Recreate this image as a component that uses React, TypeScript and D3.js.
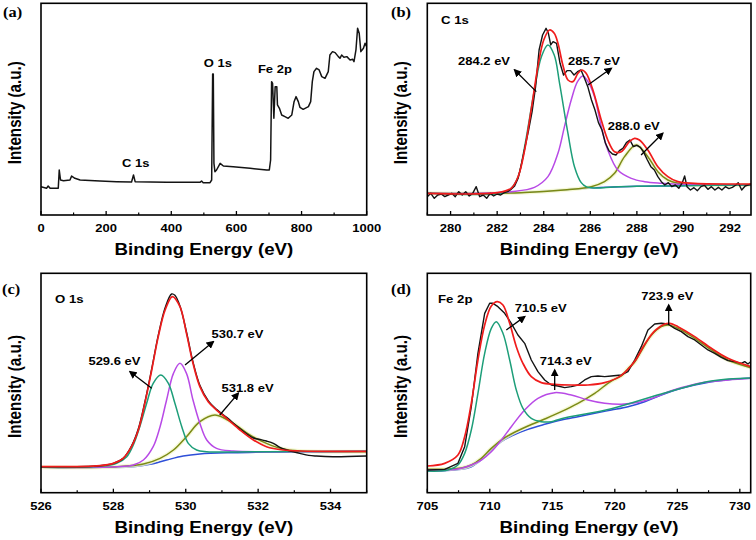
import React from 'react';
import * as d3 from 'd3';

type Pt = [number, number];

const SX = 1.17;
const SANS = '"Liberation Sans", Arial, Helvetica, sans-serif';
const SERIF = '"Liberation Serif", "Times New Roman", Times, serif';

const C_RAW = '#141414';
const C_ENV = '#f01c1c';
const C_P1 = '#1d9e79';
const C_P2 = '#b84ae6';
const C_P3 = '#7b8a16';
const C_BG = '#2e4fd8';
const C_GLOW = '#f2f6cc';

// ---------- (a) survey ----------
const surveyRaw: Pt[] = [
  [0, 85], [17, 80], [22, 87], [28, 80], [53, 80], [56, 135], [60, 105], [69, 103], [89, 105], [94, 117],
  [104, 110], [120, 105], [181, 102], [232, 100], [278, 99], [284, 120], [289, 100], [335, 99], [386, 98],
  [488, 98], [493, 102], [498, 97], [519, 97], [524, 105], [527, 423], [529, 423], [531, 155], [534, 130],
  [539, 135], [550, 155], [560, 147], [590, 145], [642, 140], [693, 135], [701, 135], [705, 165], [708, 400],
  [711, 395], [715, 290], [719, 385], [724, 385], [726, 330], [732, 320], [739, 300], [749, 295], [759, 290],
  [770, 300], [777, 340], [783, 355], [790, 340], [795, 323], [805, 317], [821, 325], [828, 340], [833, 400],
  [838, 430], [846, 440], [854, 435], [862, 415], [872, 410], [882, 430], [887, 480], [895, 490], [903, 487],
  [913, 475], [918, 470], [923, 480], [930, 473], [939, 475], [949, 465], [957, 467], [961, 460], [967, 495],
  [972, 560], [977, 545], [982, 490], [990, 500], [995, 515], [1000, 505],
];
const surveyMajor = [0, 200, 400, 600, 800, 1000];
const surveyMinor = [100, 300, 500, 700, 900];

// ---------- (b) C 1s ----------
const c1sRaw: Pt[] = [
  [279.0, 55], [279.15, 65], [279.3, 50], [279.45, 60], [279.6, 63], [279.75, 55], [279.9, 60], [280.05, 65],
  [280.2, 55], [280.35, 70], [280.5, 60], [280.65, 70], [280.8, 57], [280.95, 65], [281.1, 85], [281.25, 55],
  [281.4, 60], [281.55, 50], [281.7, 65], [281.85, 57], [282.0, 63], [282.15, 60], [282.3, 67], [282.45, 70],
  [282.6, 77], [282.75, 87], [282.9, 110], [283.05, 155], [283.2, 205], [283.35, 255], [283.5, 310],
  [283.65, 385], [283.8, 495], [283.95, 540], [284.1, 560], [284.2, 545], [284.3, 510], [284.4, 520],
  [284.55, 515], [284.7, 455], [284.85, 420], [285.0, 433], [285.15, 433], [285.3, 420], [285.45, 430],
  [285.6, 435], [285.75, 410], [285.9, 383], [286.05, 345], [286.2, 315], [286.35, 277], [286.5, 255],
  [286.65, 215], [286.8, 193], [286.95, 183], [287.1, 180], [287.25, 193], [287.4, 200], [287.55, 217],
  [287.7, 225], [287.85, 205], [288.0, 209], [288.15, 203], [288.3, 187], [288.45, 165], [288.6, 145],
  [288.75, 135], [288.9, 115], [289.05, 100], [289.2, 90], [289.35, 97], [289.5, 85], [289.65, 90],
  [289.8, 80], [289.95, 97], [290.05, 117], [290.15, 85], [290.3, 75], [290.45, 82], [290.6, 73],
  [290.75, 85], [290.9, 89], [291.05, 77], [291.2, 85], [291.35, 75], [291.5, 83], [291.65, 75], [291.8, 85],
  [291.95, 79], [292.1, 83], [292.25, 90], [292.35, 97], [292.5, 75], [292.65, 87], [292.9, 93],
];
const c1sEnvelope: Pt[] = [
  [279, 65], [282.03, 67], [282.6, 80], [282.9, 115], [283.18, 195], [283.46, 315], [283.75, 445], [284.0, 525],
  [284.25, 555], [284.45, 545], [284.61, 515], [284.82, 450], [285.04, 405], [285.25, 400], [285.47, 425],
  [285.64, 435], [285.82, 425], [286.11, 375], [286.47, 285], [286.75, 225], [287.04, 190], [287.33, 190],
  [287.68, 220], [287.9, 230], [288.11, 225], [288.47, 195], [288.9, 145], [289.33, 115], [289.76, 100],
  [290.47, 95], [292.9, 93],
];
const c1sPeakA: Pt[] = [
  [279, 65], [282.3, 67], [282.6, 80], [282.9, 115], [283.18, 205], [283.6, 375], [283.9, 475], [284.18, 510],
  [284.45, 480], [284.68, 395], [285.04, 245], [285.32, 145], [285.61, 97], [285.82, 85], [286.2, 81],
  [287, 84], [288, 86], [290, 88], [292.9, 90],
];
const c1sPeakB: Pt[] = [
  [279, 65], [281.17, 65], [282.6, 70], [283.6, 83], [284.18, 115], [284.61, 185], [284.89, 265], [285.18, 345],
  [285.45, 400], [285.68, 417], [285.9, 400], [286.18, 355], [286.47, 265], [286.75, 195], [287.18, 135],
  [287.76, 110], [288.33, 100], [289.04, 95], [289.76, 92], [291.19, 90], [292.9, 90],
];
const c1sPeakC: Pt[] = [
  [279, 65], [283, 67], [285, 76], [286.04, 85], [286.61, 100], [287.04, 125], [287.47, 175], [287.97, 210],
  [288.47, 175], [288.9, 130], [289.33, 105], [289.76, 95], [290.47, 90], [292.9, 90],
];
const c1sBackground: Pt[] = [
  [279, 65], [282, 65], [283, 67], [284, 71], [285, 76], [286, 81], [287, 84], [288, 86], [289, 87], [290, 88],
  [292.9, 90],
];
const c1sMajor = [280, 282, 284, 286, 288, 290, 292];
const c1sMinor = [279, 281, 283, 285, 287, 289, 291];

// ---------- (c) O 1s ----------
const o1sRaw: Pt[] = [
  [526, 78], [527.63, 81], [528.0, 88], [528.27, 103], [528.5, 140], [528.69, 192], [528.87, 272], [529.06, 372],
  [529.24, 472], [529.43, 555], [529.61, 596], [529.7, 592], [529.84, 560], [530.02, 482], [530.2, 392],
  [530.39, 322], [530.62, 276], [530.85, 250], [531.13, 226], [531.5, 192], [531.87, 164], [532.05, 160],
  [532.23, 155], [532.42, 148], [532.6, 136], [532.79, 128], [533.0, 122], [533.15, 118], [533.4, 112],
  [533.61, 110], [534.07, 108], [535, 110],
];
const o1sEnvelope: Pt[] = [
  [526, 78], [527.63, 81], [528.0, 88], [528.27, 103], [528.5, 138], [528.69, 188], [528.87, 268], [529.06, 368],
  [529.24, 468], [529.43, 548], [529.63, 588], [529.84, 558], [530.02, 478], [530.2, 388], [530.39, 318],
  [530.62, 273], [530.85, 248], [531.13, 223], [531.5, 188], [531.87, 158], [532.23, 138], [532.69, 128],
  [533.15, 125], [535, 124],
];
const o1sPeakA: Pt[] = [
  [526, 76], [527.63, 79], [528.09, 88], [528.37, 108], [528.55, 143], [528.73, 198], [528.92, 268], [529.1, 328],
  [529.31, 353], [529.52, 328], [529.7, 268], [529.89, 198], [530.07, 148], [530.3, 128], [530.58, 123],
  [531.31, 122], [532.23, 123], [535, 124],
];
const o1sPeakB: Pt[] = [
  [526, 76], [528.09, 78], [528.55, 83], [528.83, 98], [529.1, 138], [529.29, 198], [529.47, 278], [529.66, 358],
  [529.84, 388], [530.02, 358], [530.2, 278], [530.39, 208], [530.58, 158], [530.85, 133], [531.31, 125],
  [532.23, 123], [535, 124],
];
const o1sPeakC: Pt[] = [
  [526, 76], [528.09, 78], [528.83, 86], [529.29, 103], [529.66, 128], [530.02, 168], [530.39, 213], [530.81, 233],
  [531.31, 208], [531.77, 173], [532.23, 148], [532.69, 131], [533.15, 125], [535, 123],
];
const o1sBackground: Pt[] = [
  [526, 76], [528.55, 78], [529.01, 85], [529.47, 98], [529.93, 110], [530.39, 116], [531.31, 120], [532.23, 122],
  [533.15, 123], [535, 124],
];
const o1sMajor = [526, 528, 530, 532, 534];
const o1sMinor = [527, 529, 531, 533, 535];

// ---------- (d) Fe 2p ----------
const fe2pRaw: Pt[] = [
  [705, 68], [706.39, 70], [707.45, 88], [707.99, 138], [708.52, 258], [709.05, 418], [709.59, 538], [709.99, 568],
  [710.25, 568], [710.65, 558], [711.19, 538], [711.72, 508], [712.25, 473], [712.79, 448], [713.32, 398],
  [713.85, 363], [714.39, 338], [714.92, 323], [715.45, 320], [715.99, 315], [716.52, 318], [717.05, 323],
  [717.59, 338], [718.12, 348], [718.65, 350], [719.19, 348], [719.72, 350], [720.52, 353], [721.05, 363],
  [721.59, 398], [722.12, 438], [722.65, 488], [723.19, 506], [723.72, 508], [724.25, 506], [724.79, 493],
  [725.32, 483], [725.85, 468], [726.39, 458], [726.92, 443], [727.45, 428], [727.99, 418], [728.52, 406],
  [729.05, 396], [729.59, 393], [730.12, 388], [730.39, 393], [730.65, 386], [730.87, 393],
];
const fe2pEnvelope: Pt[] = [
  [705, 80], [706.39, 88], [707.45, 113], [707.99, 168], [708.52, 268], [709.05, 398], [709.59, 503], [710.12, 560],
  [710.6, 573], [711.05, 563], [711.59, 508], [712.12, 438], [712.65, 388], [713.32, 348], [714.12, 330],
  [715.19, 325], [716.52, 323], [717.85, 323], [719.19, 330], [720.52, 352], [721.59, 394], [722.39, 445],
  [723.19, 485], [723.99, 506], [724.39, 508], [725.05, 498], [726.39, 468], [727.72, 433], [729.05, 403],
  [730.87, 378],
];
const fe2pPeakA: Pt[] = [
  [705, 65], [706.65, 68], [707.45, 83], [707.99, 118], [708.52, 188], [709.05, 298], [709.59, 418], [710.12, 493],
  [710.52, 513], [711.05, 478], [711.59, 398], [712.12, 308], [712.65, 253], [713.32, 223], [714.12, 213],
  [714.92, 213], [715.72, 222], [719.72, 252], [723.72, 296], [727.72, 335], [730.87, 344],
];
const fe2pPeakB: Pt[] = [
  [705, 68], [707.45, 71], [708.52, 83], [709.32, 98], [710.12, 123], [710.92, 158], [711.72, 198], [712.79, 248],
  [713.85, 283], [715.19, 300], [716.52, 293], [717.85, 278], [719.19, 268], [720.52, 265], [721.85, 271],
  [723.19, 286], [724.52, 306], [725.85, 320], [727.19, 331], [729.05, 338], [730.87, 343],
];
const fe2pPeakC: Pt[] = [
  [705, 70], [707.72, 74], [708.52, 83], [709.32, 103], [710.12, 133], [710.92, 158], [711.72, 176], [713.05, 200],
  [714.39, 221], [715.72, 243], [717.05, 268], [718.39, 298], [719.72, 335], [720.52, 350], [721.05, 372],
  [721.59, 392], [722.12, 425], [722.92, 472], [723.72, 498], [724.25, 503], [725.05, 493], [726.39, 463],
  [727.72, 428], [729.05, 398], [730.87, 375],
];
const fe2pBackground: Pt[] = [
  [705, 65], [706.39, 66], [707.72, 70], [708.52, 78], [709.32, 98], [710.12, 128], [710.92, 153], [711.72, 170],
  [713.05, 190], [714.39, 205], [715.72, 218], [717.05, 228], [718.39, 238], [719.72, 248], [721.05, 258],
  [722.39, 273], [723.72, 293], [725.05, 310], [726.39, 323], [727.72, 333], [729.05, 339], [730.87, 343],
];
const fe2pMajor = [705, 710, 715, 720, 725, 730];
const fe2pMinor = [707.5, 712.5, 717.5, 722.5, 727.5];

// ---------- annotation texts / anchors (data coords) ----------
type Ann = { text: string; at: Pt; arrow?: [Pt, Pt] };
const surveyLabels: Ann[] = [
  { text: 'C 1s', at: [249, 144] },
  { text: 'O 1s', at: [500, 444] },
  { text: 'Fe 2p', at: [666, 426] },
];
const c1sLabels: Ann[] = [
  { text: '284.2 eV', at: [280.32, 450], arrow: [[283.68, 370], [282.75, 435]] },
  { text: '285.7 eV', at: [285.04, 450], arrow: [[285.9, 390], [286.9, 440]] },
  { text: '288.0 eV', at: [286.75, 255], arrow: [[288.18, 180], [289.11, 245]] },
];
const o1sLabels: Ann[] = [
  { text: '529.6 eV', at: [527.31, 383], arrow: [[529.06, 313], [528.46, 363]] },
  { text: '530.7 eV', at: [530.71, 463], arrow: [[529.98, 383], [530.76, 453]] },
  { text: '531.8 eV', at: [530.99, 303], arrow: [[530.94, 233], [531.45, 298]] },
];
const fe2pLabels: Ann[] = [
  { text: '710.5 eV', at: [711.99, 543], arrow: [[711.32, 488], [712.79, 528]] },
  { text: '723.9 eV', at: [722.12, 578], arrow: [[724.31, 503], [724.31, 563]] },
  { text: '714.3 eV', at: [713.99, 383], arrow: [[715.19, 308], [715.19, 368]] },
];

type Series = { data: Pt[]; color: string; width: number; smooth: boolean; glow?: boolean };

type PanelCfg = {
  id: string;
  letter: string;
  letterPos: Pt;
  inner?: { text: string; pos: Pt };
  xDomain: [number, number];
  xRange: [number, number];
  yDomain: [number, number];
  yRange: [number, number];
  major: number[];
  minor: number[];
  series: Series[];
  labels: Ann[];
};

const fitSeries = (bg: Pt[], p3: Pt[], p2: Pt[], p1: Pt[], raw: Pt[], env: Pt[], rawSmooth: boolean): Series[] => [
  { data: bg, color: C_BG, width: 1.5, smooth: true },
  { data: p3, color: C_P3, width: 1.5, smooth: true, glow: true },
  { data: p2, color: C_P2, width: 1.5, smooth: true },
  { data: p1, color: C_P1, width: 1.5, smooth: true },
  { data: raw, color: C_RAW, width: 1.4, smooth: rawSmooth },
  { data: env, color: C_ENV, width: 1.7, smooth: true },
];

const panels: PanelCfg[] = [
  {
    id: 'a', letter: '(a)', letterPos: [3, 17],
    xDomain: [0, 1000], xRange: [41, 366.7], yDomain: [0, 635], yRange: [215, 3.3],
    major: surveyMajor, minor: surveyMinor,
    series: [{ data: surveyRaw, color: C_RAW, width: 1.5, smooth: false }],
    labels: surveyLabels,
  },
  {
    id: 'b', letter: '(b)', letterPos: [391, 17], inner: { text: 'C 1s', pos: [441, 24] },
    xDomain: [279, 292.9], xRange: [427.3, 751], yDomain: [0, 635], yRange: [215, 3.3],
    major: c1sMajor, minor: c1sMinor,
    series: fitSeries(c1sBackground, c1sPeakC, c1sPeakB, c1sPeakA, c1sRaw, c1sEnvelope, false),
    labels: c1sLabels,
  },
  {
    id: 'c', letter: '(c)', letterPos: [2, 294], inner: { text: 'O 1s', pos: [55, 303] },
    xDomain: [526, 535], xRange: [41, 366.7], yDomain: [0, 658], yRange: [492.7, 273.3],
    major: o1sMajor, minor: o1sMinor,
    series: fitSeries(o1sBackground, o1sPeakC, o1sPeakB, o1sPeakA, o1sRaw, o1sEnvelope, true),
    labels: o1sLabels,
  },
  {
    id: 'd', letter: '(d)', letterPos: [391, 294], inner: { text: 'Fe 2p', pos: [438, 303] },
    xDomain: [705, 730.87], xRange: [427.3, 750.7], yDomain: [0, 658], yRange: [492.7, 273.3],
    major: fe2pMajor, minor: fe2pMinor,
    series: fitSeries(fe2pBackground, fe2pPeakC, fe2pPeakB, fe2pPeakA, fe2pRaw, fe2pEnvelope, false),
    labels: fe2pLabels,
  },
];

const fmtTick = (v: number) => (Number.isInteger(v) ? String(v) : v.toFixed(1));

function Panel({ cfg }: { cfg: PanelCfg }) {
  const x = d3.scaleLinear().domain(cfg.xDomain).range(cfg.xRange);
  const y = d3.scaleLinear().domain(cfg.yDomain).range(cfg.yRange);
  const [x0, x1] = cfg.xRange;
  const [yb, yt] = cfg.yRange;
  const clipId = `clip-${cfg.id}`;
  const mkLine = (smooth: boolean) =>
    d3
      .line<Pt>()
      .x((d) => x(d[0]))
      .y((d) => y(d[1]))
      .curve(smooth ? d3.curveCatmullRom.alpha(0.5) : d3.curveLinear);
  const cx = (x0 + x1) / 2;
  const cy = (yb + yt) / 2 + 3.5;
  return (
    <g>
      <defs>
        <clipPath id={clipId}>
          <rect x={x0} y={yt} width={x1 - x0} height={yb - yt} />
        </clipPath>
      </defs>
      <g clipPath={`url(#${clipId})`}>
        {cfg.series.map((s, i) => (
          <g key={i}>
            {s.glow && (
              <path
                d={mkLine(s.smooth)(s.data) || ''}
                fill="none"
                stroke={C_GLOW}
                strokeWidth={4}
                strokeOpacity={0.8}
                strokeLinejoin="round"
              />
            )}
            <path d={mkLine(s.smooth)(s.data) || ''} fill="none" stroke={s.color} strokeWidth={s.width} strokeLinejoin="round" />
          </g>
        ))}
      </g>
      <rect x={x0} y={yt} width={x1 - x0} height={yb - yt} fill="none" stroke="#000" strokeWidth={1.6} />
      {cfg.major.map((t) => (
        <line key={`M${t}`} x1={x(t)} x2={x(t)} y1={yb} y2={yb - 4} stroke="#000" strokeWidth={1.3} />
      ))}
      {cfg.minor.map((t) => (
        <line key={`m${t}`} x1={x(t)} x2={x(t)} y1={yb} y2={yb - 2.5} stroke="#000" strokeWidth={1.2} />
      ))}
      {cfg.major.map((t) => (
        <text
          key={`L${t}`}
          transform={`translate(${x(t)},${yb + 16.8}) scale(${SX},1)`}
          textAnchor="middle"
          fontFamily={SANS}
          fontWeight="bold"
          fontSize={11.1}
        >
          {fmtTick(t)}
        </text>
      ))}
      <text
        transform={`translate(${cx},${yb + 40.3}) scale(${SX},1)`}
        textAnchor="middle"
        fontFamily={SANS}
        fontWeight="bold"
        fontSize={16}
      >
        Binding Energy (eV)
      </text>
      <text
        transform={`translate(${x0 - 20.3},${cy}) scale(${SX},1) rotate(-90)`}
        textAnchor="middle"
        fontFamily={SANS}
        fontWeight="bold"
        fontSize={15.2}
      >
        Intensity (a.u.)
      </text>
      <text
        transform={`translate(${cfg.letterPos[0]},${cfg.letterPos[1]}) scale(${SX},1)`}
        fontFamily={SERIF}
        fontWeight="bold"
        fontSize={14}
      >
        {cfg.letter}
      </text>
      {cfg.inner && (
        <text
          transform={`translate(${cfg.inner.pos[0]},${cfg.inner.pos[1]}) scale(${SX},1)`}
          fontFamily={SANS}
          fontWeight="bold"
          fontSize={11.3}
        >
          {cfg.inner.text}
        </text>
      )}
      {cfg.labels.map((a, i) => (
        <g key={`a${i}`}>
          <text
            transform={`translate(${x(a.at[0])},${y(a.at[1])}) scale(${SX},1)`}
            fontFamily={SANS}
            fontWeight="bold"
            fontSize={11.1}
          >
            {a.text}
          </text>
          {a.arrow && (
            <line
              x1={x(a.arrow[0][0])}
              y1={y(a.arrow[0][1])}
              x2={x(a.arrow[1][0])}
              y2={y(a.arrow[1][1])}
              stroke="#000"
              strokeWidth={1.3}
              markerEnd="url(#arrowHead)"
            />
          )}
        </g>
      ))}
    </g>
  );
}

export default function App() {
  return (
    <svg
      width={756}
      height={540}
      viewBox="0 0 756 540"
      style={{ position: 'absolute', left: 0, top: 0, background: '#fff' }}
    >
      <defs>
        <marker
          id="arrowHead"
          viewBox="0 0 10 10"
          refX={8}
          refY={5}
          markerWidth={8}
          markerHeight={8}
          markerUnits="userSpaceOnUse"
          orient="auto"
        >
          <path d="M0,0 L10,5 L0,10 z" fill="#000" />
        </marker>
      </defs>
      <rect x={0} y={0} width={756} height={540} fill="#fff" />
      {panels.map((p) => (
        <Panel key={p.id} cfg={p} />
      ))}
    </svg>
  );
}
